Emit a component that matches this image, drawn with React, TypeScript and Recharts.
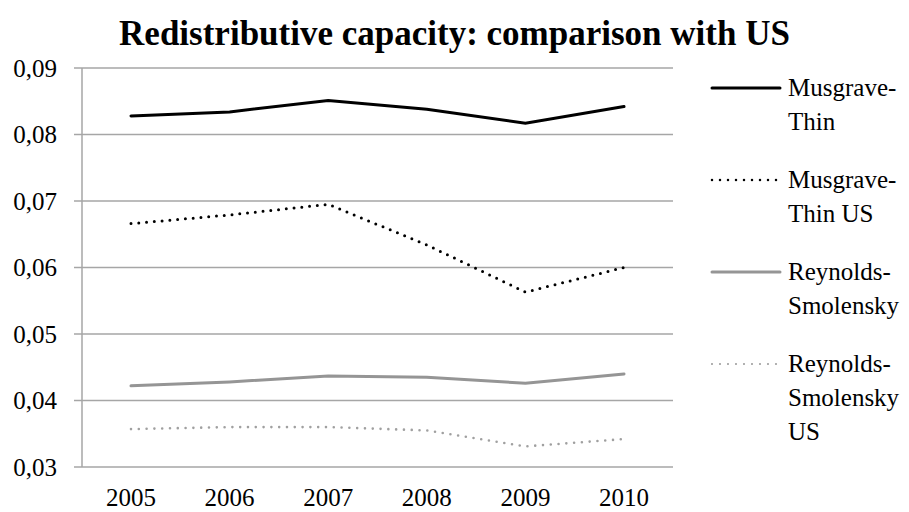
import React from 'react';
import { LineChart, Line, XAxis, YAxis, CartesianGrid, Legend } from 'recharts';

document.body.style.margin = '0';

const YEARS = ['2005', '2006', '2007', '2008', '2009', '2010'];
const MUSGRAVE_THIN = [0.0828, 0.0834, 0.0851, 0.0838, 0.0817, 0.0842];
const MUSGRAVE_THIN_US = [0.0666, 0.0679, 0.0695, 0.0634, 0.0563, 0.06];
const REYNOLDS_SMOLENSKY = [0.0422, 0.0428, 0.0437, 0.0435, 0.0426, 0.044];
const REYNOLDS_SMOLENSKY_US = [0.0357, 0.036, 0.036, 0.0355, 0.0331, 0.0342];
const Y_TICKS = [0.03, 0.04, 0.05, 0.06, 0.07, 0.08, 0.09];

const FONT = "'Liberation Serif', 'Times New Roman', serif";
const GRID = '#a6a6a6';

const data = YEARS.map((year, i) => ({
  year,
  mt: MUSGRAVE_THIN[i],
  mtUs: MUSGRAVE_THIN_US[i],
  rs: REYNOLDS_SMOLENSKY[i],
  rsUs: REYNOLDS_SMOLENSKY_US[i],
}));

const SERIES = [
  { key: 'mt', name: 'Musgrave-Thin', color: '#000000', width: 3, dash: undefined, legendWidth: 3, legendDash: undefined },
  { key: 'mtUs', name: 'Musgrave-Thin US', color: '#000000', width: 3, dash: '0 7.8', legendWidth: 2.5, legendDash: '0 8' },
  { key: 'rs', name: 'Reynolds-Smolensky', color: '#959595', width: 3, dash: undefined, legendWidth: 3, legendDash: undefined },
  { key: 'rsUs', name: 'Reynolds-Smolensky US', color: '#a0a0a0', width: 2.6, dash: '0 7.8', legendWidth: 2.2, legendDash: '0 8' },
];

// boundary ticks between the year categories
const BOUNDARY_TICKS = YEARS.map((_, i) => i).concat([YEARS.length]);

function LegendBox() {
  return (
    <div style={{ fontFamily: FONT, fontSize: 25, color: '#000' }}>
      {SERIES.map((s) => (
        <div key={s.key} style={{ display: 'flex', alignItems: 'flex-start', marginBottom: 24 }}>
          <svg width={72} height={34} style={{ flex: 'none' }}>
            <line
              x1={2}
              x2={70}
              y1={17}
              y2={17}
              stroke={s.color}
              strokeWidth={s.legendWidth}
              strokeDasharray={s.legendDash}
              strokeLinecap="round"
            />
          </svg>
          <div style={{ marginLeft: 6, width: 121, lineHeight: '34px' }}>{s.name}</div>
        </div>
      ))}
    </div>
  );
}

export default function App() {
  return (
    <div style={{ position: 'relative', width: 909, height: 512, background: '#fff' }}>
      <div
        style={{
          position: 'absolute',
          top: 13,
          left: 0,
          width: 909,
          textAlign: 'center',
          fontFamily: FONT,
          fontWeight: 'bold',
          fontSize: 35,
          lineHeight: '42px',
          zIndex: 2,
        }}
      >
        Redistributive capacity: comparison with US
      </div>
      <LineChart
        width={909}
        height={512}
        data={data}
        margin={{ top: 68, right: 236, bottom: 0, left: 0 }}
      >
        <CartesianGrid vertical={false} stroke={GRID} strokeWidth={1.5} />
        <XAxis
          xAxisId="bounds"
          type="number"
          domain={[0, YEARS.length]}
          ticks={BOUNDARY_TICKS}
          allowDataOverflow
          tick={false}
          tickSize={7}
          height={0}
          axisLine={{ stroke: GRID, strokeWidth: 1.5 }}
          tickLine={{ stroke: GRID, strokeWidth: 1.5 }}
        />
        <XAxis
          dataKey="year"
          axisLine={false}
          tickLine={false}
          tickSize={0}
          tickMargin={21}
          height={45}
          interval={0}
          padding={{ left: 49, right: 49 }}
          tick={{ fontSize: 25, fill: '#000', fontFamily: FONT }}
        />
        <YAxis
          width={82}
          domain={[0.03, 0.09]}
          ticks={Y_TICKS}
          interval={0}
          tickFormatter={(v: number) => v.toFixed(2).replace('.', ',')}
          tickSize={8}
          tickMargin={17}
          axisLine={{ stroke: GRID, strokeWidth: 1.5 }}
          tickLine={{ stroke: GRID, strokeWidth: 1.5 }}
          tick={{ fontSize: 25, fill: '#000', fontFamily: FONT }}
        />
        {SERIES.map((s) => (
          <Line
            key={s.key}
            type="linear"
            dataKey={s.key}
            name={s.name}
            stroke={s.color}
            strokeWidth={s.width}
            strokeDasharray={s.dash}
            strokeLinecap="round"
            dot={false}
            activeDot={false}
            isAnimationActive={false}
          />
        ))}
        <Legend
          layout="vertical"
          align="center"
          verticalAlign="middle"
          content={() => <LegendBox />}
          wrapperStyle={{ left: 710, top: 71, width: 199 }}
        />
      </LineChart>
    </div>
  );
}
